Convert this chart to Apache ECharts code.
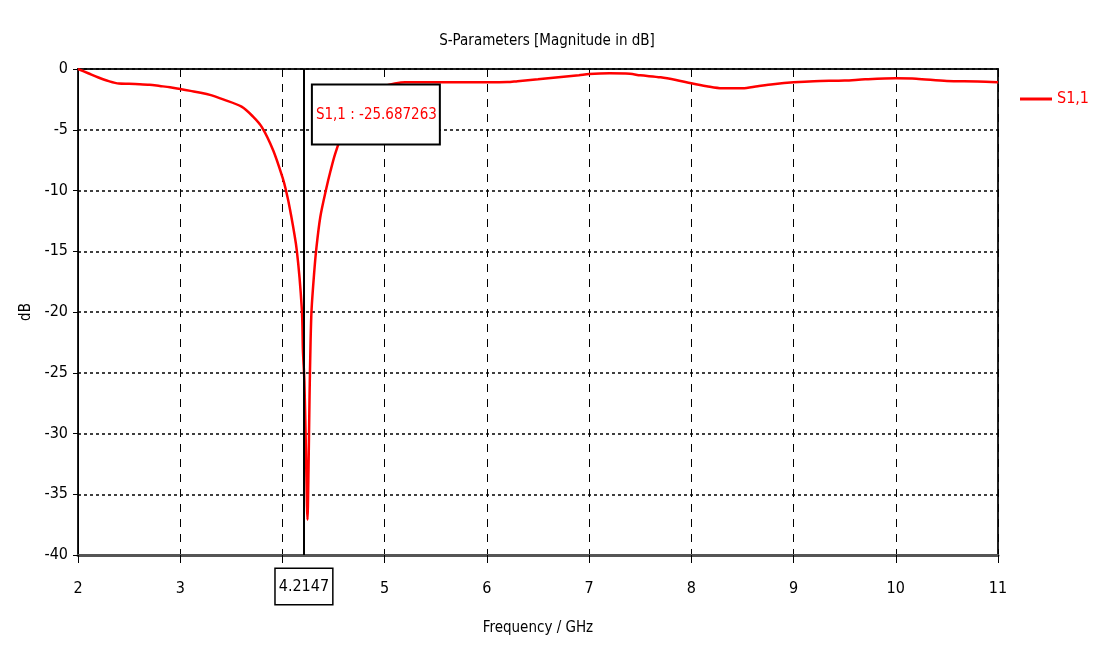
<!DOCTYPE html>
<html>
<head>
<meta charset="utf-8">
<title>S-Parameters</title>
<script src="https://cdn.jsdelivr.net/npm/echarts@6/dist/echarts.min.js"></script>
<style>
  html, body { margin: 0; padding: 0; background: #fff; }
  #chart { width: 1099px; height: 646px; }
</style>
</head>
<body>
<div id="chart"></div>
<script>
// frequency points (GHz) and S1,1 magnitude (dB)
const freq = [2.0, 2.1, 2.2, 2.3, 2.4, 2.5, 2.6, 2.7, 2.8, 2.9,
  3.0, 3.1, 3.2, 3.3, 3.42, 3.6, 3.71, 3.8, 3.91, 4.0,
  4.035, 4.075, 4.14, 4.19, 4.2, 4.2147, 4.23, 4.245, 4.255, 4.265,
  4.275, 4.285, 4.31, 4.33, 4.37, 4.43, 4.47, 4.515, 4.6, 4.7,
  4.8, 4.9, 5.0, 5.1, 5.2, 5.6, 6.0, 6.2, 6.3, 6.5,
  6.7, 6.9, 7.0, 7.2, 7.4, 7.5, 7.7, 7.85, 8.0, 8.15,
  8.3, 8.5, 8.65, 8.8, 9.0, 9.2, 9.5, 9.7, 10.0, 10.2,
  10.5, 10.8, 11.0]
const s11 = [0, -0.35, -0.7, -1.0, -1.2, -1.22, -1.25, -1.3, -1.4, -1.5,
  -1.65, -1.8, -1.95, -2.15, -2.5, -3.1, -3.9, -4.8, -6.7, -8.9,
  -10.0, -11.6, -14.9, -19.8, -23.1, -25.687263, -31.5, -37.1, -33.0, -27.0,
  -22.5, -19.8, -16.8, -14.9, -12.2, -9.8, -8.4, -7.0, -5.0, -3.4,
  -2.4, -1.75, -1.4, -1.2, -1.1, -1.1, -1.1, -1.08, -1.0, -0.85,
  -0.68, -0.52, -0.42, -0.36, -0.4, -0.52, -0.68, -0.9, -1.18, -1.42,
  -1.59, -1.59, -1.42, -1.26, -1.1, -1.0, -0.95, -0.85, -0.77, -0.8,
  -0.99, -1.02, -1.1]

const xTicks = [2, 3, 4, 5, 6, 7, 8, 9, 10, 11]
const yTicks = [0, -5, -10, -15, -20, -25, -30, -35, -40]

// marker placed by the simulator
const markerFreq = 4.2147
const markerValue = -25.687263

const font = '"Liberation Sans Narrow", "DejaVu Sans Condensed", sans-serif'
const fontSize = 16

const chart = echarts.init(document.getElementById('chart'))

const option = {
  backgroundColor: '#fff',
  animation: false,
  title: {
    text: 'S-Parameters [Magnitude in dB]',
    left: 542,
    top: 29,
    textAlign: 'center',
    textStyle: {
      fontFamily: font,
      fontSize: 15,
      fontWeight: 'normal',
      color: '#000'
    }
  },
  legend: {
    data: [{ name: 'S1,1', icon: 'rect' }],
    left: 1015,
    top: 86,
    itemWidth: 32,
    itemHeight: 3,
    itemGap: 6,
    textStyle: {
      fontFamily: font,
      fontSize: fontSize,
      color: '#ff0000'
    }
  },
  grid: {
    left: 78,
    right: 101,
    top: 69,
    bottom: 91,
    show: true,
    borderColor: '#222',
    borderWidth: 2
  },
  xAxis: {
    type: 'value',
    min: xTicks[0],
    max: xTicks[xTicks.length - 1],
    interval: 1,
    name: 'Frequency / GHz',
    nameLocation: 'middle',
    nameGap: 66,
    nameTextStyle: { fontFamily: font, fontSize: 15, color: '#000' },
    axisLine: { onZero: false, lineStyle: { color: '#555', width: 3 } },
    axisTick: { length: 8, lineStyle: { color: '#000' } },
    axisLabel: {
      margin: 26,
      fontFamily: font,
      fontSize: fontSize,
      color: '#000',
      // the marker label replaces the "4"
      formatter: function(v) {
        return xTicks.indexOf(v) === -1 || Math.floor(markerFreq) === v ? '' : String(v)
      }
    },
    splitLine: {
      show: true,
      lineStyle: { color: '#000', width: 1, type: [8, 7] }
    }
  },
  yAxis: {
    type: 'value',
    min: yTicks[yTicks.length - 1],
    max: yTicks[0],
    interval: 5,
    name: 'dB',
    nameLocation: 'middle',
    nameGap: 40,
    nameTextStyle: { fontFamily: font, fontSize: 15, color: '#000' },
    axisLine: { show: true, onZero: false, lineStyle: { color: '#000', width: 1 } },
    axisTick: { show: true, length: 5, lineStyle: { color: '#000' } },
    axisLabel: {
      margin: 10,
      fontFamily: font,
      fontSize: fontSize,
      color: '#000'
    },
    splitLine: {
      show: true,
      lineStyle: { color: '#000', width: 1.5, type: [3, 3] }
    }
  },
  series: [{
    name: 'S1,1',
    type: 'line',
    symbol: 'none',
    smooth: 0.3,
    z: 3,
    lineStyle: { color: '#ff0000', width: 2.5 },
    itemStyle: { color: '#ff0000' },
    data: freq.map(function(f, i) { return [f, s11[i]] }),
    markLine: {
      silent: true,
      symbol: 'none',
      animation: false,
      lineStyle: { color: '#000', width: 2, type: 'solid' },
      label: {
        show: true,
        position: 'start',
        distance: 14,
        formatter: String(markerFreq),
        fontFamily: font,
        fontSize: fontSize,
        color: '#000',
        backgroundColor: '#fff',
        borderColor: '#000',
        borderWidth: 1.5,
        padding: [10, 3, 9, 3]
      },
      data: [{ xAxis: markerFreq }]
    },
    markPoint: {
      silent: true,
      symbol: 'rect',
      symbolSize: 1,
      itemStyle: { color: 'rgba(0,0,0,0)' },
      label: {
        show: true,
        position: [9, 17],
        align: 'left',
        verticalAlign: 'top',
        formatter: 'S1,1 : ' + markerValue,
        fontFamily: font,
        fontSize: 15,
        color: '#ff0000',
        backgroundColor: '#fff',
        borderColor: '#000',
        borderWidth: 2,
        padding: [22, 2, 21, 3]
      },
      data: [{ coord: [markerFreq, yTicks[0]] }]
    }
  }]
}

chart.setOption(option)
</script>
</body>
</html>
